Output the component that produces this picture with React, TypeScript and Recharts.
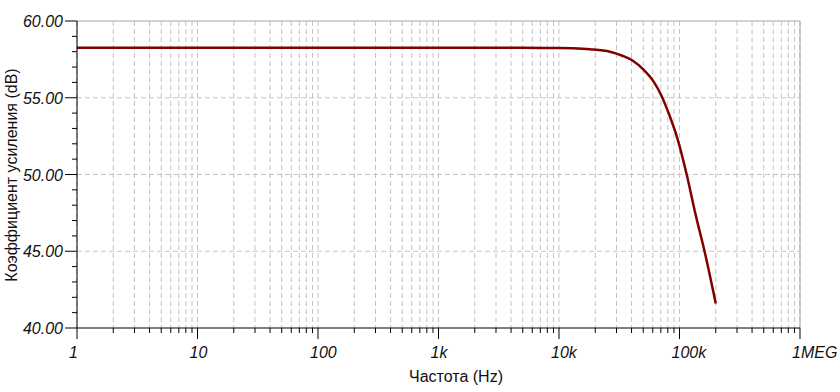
import React from 'react';
import { LineChart, Line, XAxis, YAxis, CartesianGrid, ReferenceLine } from 'recharts';

const freqHz = [1, 10, 100, 1000, 5000, 10000, 12700, 18000, 26500, 34000, 41000, 50000, 61000, 71000, 83000, 96000, 115000, 135000, 163000, 200000];
const gainDb = [58.26, 58.26, 58.26, 58.26, 58.25, 58.24, 58.22, 58.16, 58.0, 57.72, 57.41, 56.85, 56.05, 55.12, 53.8, 52.36, 49.97, 47.5, 44.85, 41.6];

const majorX = [1, 10, 100, 1000, 10000, 100000, 1000000];
const majorXLabels = ['1', '10', '100', '1k', '10k', '100k', '1MEG'];
const yTicks = [40, 41, 42, 43, 44, 45, 46, 47, 48, 49, 50, 51, 52, 53, 54, 55, 56, 57, 58, 59, 60];
const yMajor = [40, 45, 50, 55, 60];
const yGridLines = [45, 50, 55];

const xTicks: number[] = [];
for (let d = 0; d < 6; d++) {
  for (let m = 1; m <= 9; m++) xTicks.push(m * Math.pow(10, d));
}
xTicks.push(1000000);

const data = freqHz.map((f, i) => ({ f, g: gainDb[i] }));

const FONT = '"Liberation Sans", Arial, sans-serif';

const XTick = (props: any) => {
  const { x, y, payload } = props;
  const idx = majorX.indexOf(payload.value);
  const major = idx >= 0;
  return (
    <g>
      <line x1={x} x2={x} y1={y} y2={y + (major ? 11 : 5)} stroke="#000" strokeWidth={1} />
      {major && (
        <text x={x - 8} y={y + 30} textAnchor="start" fontFamily={FONT} fontSize={16} fontStyle="italic" fill="#111">
          {majorXLabels[idx]}
        </text>
      )}
    </g>
  );
};

const YTick = (props: any) => {
  const { x, y, payload } = props;
  const major = yMajor.indexOf(payload.value) >= 0;
  return (
    <g>
      <line x1={x - (major ? 12 : 5)} x2={x} y1={y} y2={y} stroke="#000" strokeWidth={1} />
      {major && (
        <text x={x - 14} y={y + 6} textAnchor="end" fontFamily={FONT} fontSize={16} fontStyle="italic" fill="#111">
          {payload.value.toFixed(2)}
        </text>
      )}
    </g>
  );
};

export default function App() {
  return (
    <div style={{ position: 'absolute', left: 0, top: 0, width: 840, height: 392, background: '#fff' }}>
      <LineChart width={840} height={392} data={data} margin={{ top: 21, right: 40, bottom: 0, left: 0 }}>
        <CartesianGrid horizontal={false} stroke="#c4c4c4" strokeDasharray="5 3" />
        {yGridLines.map((v) => (
          <ReferenceLine key={v} y={v} stroke="#c4c4c4" strokeDasharray="5 3" />
        ))}
        <ReferenceLine y={60} stroke="#a8a8a8" />
        <ReferenceLine x={1000000} stroke="#a8a8a8" />
        <XAxis
          dataKey="f"
          type="number"
          scale="log"
          domain={[1, 1000000]}
          ticks={xTicks}
          interval={0}
          allowDataOverflow
          height={64}
          tickLine={false}
          tickSize={0}
          tickMargin={0}
          axisLine={{ stroke: '#000' }}
          tick={<XTick />}
          label={(p: any) => (
            <text x={456} y={382} textAnchor="middle" fontFamily={FONT} fontSize={16} fill="#111">
              Частота (Hz)
            </text>
          )}
        />
        <YAxis
          type="number"
          domain={[40, 60]}
          ticks={yTicks}
          interval={0}
          width={77}
          tickLine={false}
          tickSize={0}
          tickMargin={0}
          axisLine={{ stroke: '#000' }}
          tick={<YTick />}
          label={(p: any) => (
            <text
              x={17}
              y={175}
              transform="rotate(-90 17 175)"
              textAnchor="middle"
              fontFamily={FONT}
              fontSize={16}
              fill="#111"
            >
              Коэффициент усиления (dB)
            </text>
          )}
        />
        <Line
          type="monotone"
          dataKey="g"
          stroke="#800000"
          strokeWidth={2.5}
          dot={false}
          isAnimationActive={false}
        />
      </LineChart>
    </div>
  );
}
